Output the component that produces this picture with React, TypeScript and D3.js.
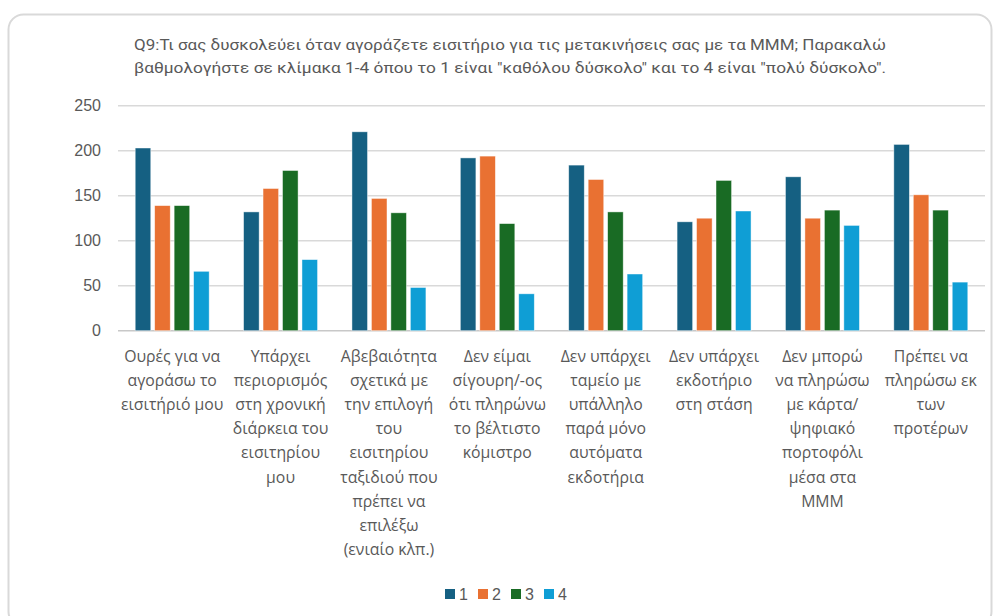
import React from "react";
import * as d3 from "d3";

const categories: string[][] = [
  ["Ουρές για να", "αγοράσω το", "εισιτήριό μου"],
  ["Υπάρχει", "περιορισμός", "στη χρονική", "διάρκεια του", "εισιτηρίου", "μου"],
  ["Αβεβαιότητα", "σχετικά με", "την επιλογή", "του", "εισιτηρίου", "ταξιδιού που", "πρέπει να", "επιλέξω", "(ενιαίο κλπ.)"],
  ["Δεν είμαι", "σίγουρη/-ος", "ότι πληρώνω", "το βέλτιστο", "κόμιστρο"],
  ["Δεν υπάρχει", "ταμείο με", "υπάλληλο", "παρά μόνο", "αυτόματα", "εκδοτήρια"],
  ["Δεν υπάρχει", "εκδοτήριο", "στη στάση"],
  ["Δεν μπορώ", "να πληρώσω", "με κάρτα/", "ψηφιακό", "πορτοφόλι", "μέσα στα", "ΜΜΜ"],
  ["Πρέπει να", "πληρώσω εκ", "των", "προτέρων"],
];

const seriesNames = ["1", "2", "3", "4"];
const series1 = [203, 132, 221, 192, 184, 121, 171, 207];
const series2 = [139, 158, 147, 194, 168, 125, 125, 151];
const series3 = [139, 178, 131, 119, 132, 167, 134, 134];
const series4 = [66, 79, 48, 41, 63, 133, 117, 54];
const seriesValues = [series1, series2, series3, series4];
const colors = ["#156082", "#E97132", "#196B24", "#0F9ED5"];
const yTicks = [0, 50, 100, 150, 200, 250];

const titleLines = [
  "Q9:Τι σας δυσκολεύει όταν αγοράζετε εισιτήριο για τις μετακινήσεις σας με τα ΜΜΜ; Παρακαλώ",
  "βαθμολογήστε σε κλίμακα 1-4 όπου το 1 είναι \"καθόλου δύσκολο\" και το 4 είναι \"πολύ δύσκολο\".",
];

export default function App() {
  const W = 996, H = 616;
  const left = 118, right = 985, top = 105.7, bottom = 330.7;
  const keys = categories.map((_, i) => String(i));
  const x0 = d3.scaleBand<string>().domain(keys).range([left, right]).padding(0);
  const bw = x0.bandwidth();
  const x1 = d3.scaleBand<string>().domain(seriesNames).range([17.2, bw - 17.2]).paddingInner(0.2);
  const y = d3.scaleLinear().domain([0, 250]).range([bottom, top]);
  const gray = "#595959";

  return (
    <svg width={W} height={H} style={{ position: "absolute", left: 0, top: 0, display: "block" }}>
      <rect x={0} y={0} width={W} height={H} fill="#fff" />
      <rect x={8.5} y={14.5} width={983} height={612} rx={15} ry={15} fill="#fff" stroke="#d9d9d9" strokeWidth={2} />
      {titleLines.map((t, i) => (
        <text key={i} x={510} y={50 + i * 23} textAnchor="middle" fontFamily="Roboto, 'Liberation Sans', sans-serif"
          fontSize={15} fill={gray} textLength={752} lengthAdjust="spacingAndGlyphs">{t}</text>
      ))}
      {yTicks.map((t) => (
        <g key={t}>
          <line x1={left} x2={right} y1={y(t)} y2={y(t)} stroke={t === 0 ? "#c8c8c8" : "#d9d9d9"} strokeWidth={1.5} />
          <text x={101} y={y(t)} dy="0.35em" textAnchor="end" fontFamily="'Liberation Sans', Arial, sans-serif" fontSize={16} fill={gray}>{t}</text>
        </g>
      ))}
      {keys.map((k, ci) => (
        <g key={k} transform={`translate(${x0(k)},0)`}>
          {seriesNames.map((s, si) => {
            const v = seriesValues[si][ci];
            return (
              <rect key={s} x={x1(s)} y={y(v)} width={x1.bandwidth()} height={y(0) - y(v)}
                fill={colors[si]} stroke="#ffffff" strokeOpacity={0.6} strokeWidth={0.75} />
            );
          })}
        </g>
      ))}
      {keys.map((k, ci) => (
        <text key={k} x={(x0(k) as number) + bw / 2} textAnchor="middle" fontFamily="'Open Sans', 'Noto Sans', sans-serif"
          fontSize={15.8} fill={gray}>
          {categories[ci].map((line, li) => (
            <tspan key={li} x={(x0(k) as number) + bw / 2} y={362 + li * 24.1}>{line}</tspan>
          ))}
        </text>
      ))}
      {seriesNames.map((s, i) => {
        const lx = 445 + i * 33;
        return (
          <g key={s}>
            <rect x={lx} y={589} width={10} height={10} fill={colors[i]} />
            <text x={lx + 14} y={594} dy="0.35em" fontFamily="'Liberation Sans', Arial, sans-serif" fontSize={16} fill={gray}>{s}</text>
          </g>
        );
      })}
    </svg>
  );
}
